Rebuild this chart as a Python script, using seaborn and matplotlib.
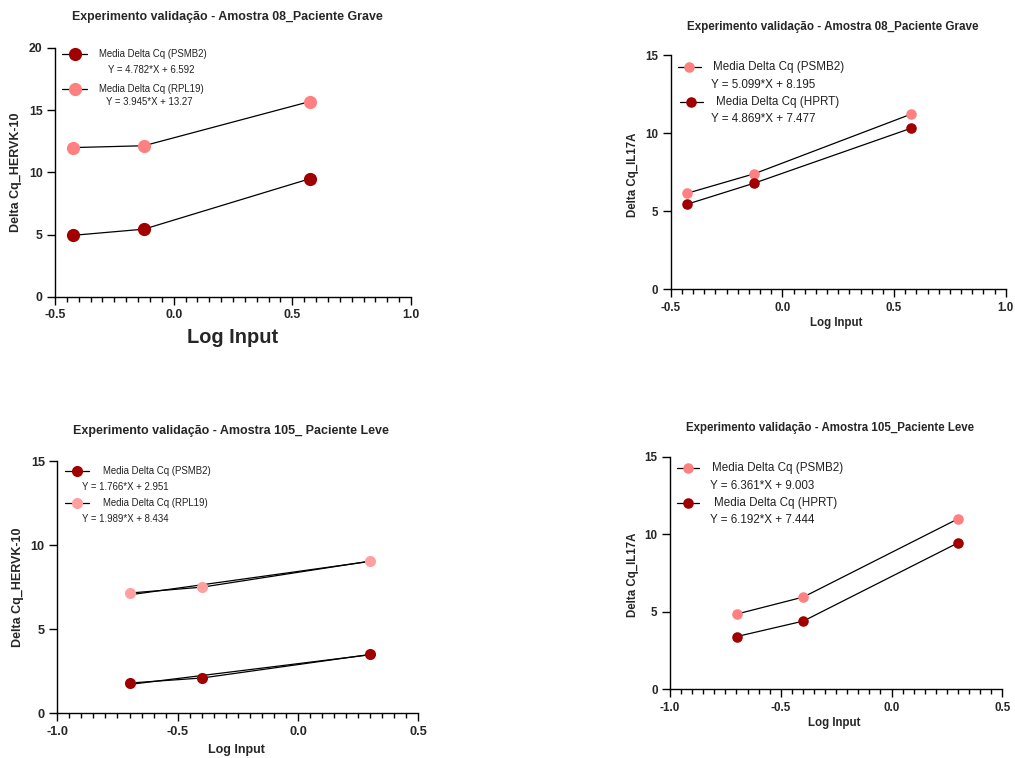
import numpy as np
import matplotlib
matplotlib.use("Agg")
import matplotlib.pyplot as plt
import matplotlib.ticker as mticker
from matplotlib.lines import Line2D
import seaborn as sns

# data (log input vs delta Cq)
x_08 = [-0.426, -0.125, 0.574]
hervk_08_psmb2 = [4.95, 5.45, 9.5]
hervk_08_rpl19 = [12.0, 12.15, 15.7]
il17_08_psmb2 = [6.15, 7.4, 11.2]
il17_08_hprt = [5.45, 6.8, 10.3]

x_105 = [-0.699, -0.398, 0.301]
hervk_105_psmb2 = [1.8, 2.1, 3.5]
hervk_105_rpl19 = [7.15, 7.5, 9.05]
il17_105_psmb2 = [4.85, 5.95, 11.0]
il17_105_hprt = [3.4, 4.4, 9.45]

# fitted lines shown in the HERVK-10 / Amostra 105 panel
fit_105_slopes = [1.766, 1.989]
fit_105_intercepts = [2.951, 8.434]

titles = ["Experimento validação - Amostra 08_Paciente Grave",
          "Experimento validação - Amostra 08_Paciente Grave",
          "Experimento validação - Amostra 105_ Paciente Leve",
          "Experimento validação - Amostra 105_Paciente Leve"]
ylabels = ["Delta Cq_HERVK-10", "Delta Cq_IL17A", "Delta Cq_HERVK-10", "Delta Cq_IL17A"]

DARK = "#A00000"
LIGHT = "#FF8080"
PALE = "#FFA0A0"

W, H = 1015, 758

sns.set_theme(style="ticks")
plt.rcParams["font.family"] = ["Liberation Sans", "DejaVu Sans"]

fig = plt.figure(figsize=(W / 100, H / 100), dpi=100)


def fx(px):
    return px / W


def fy(py):
    return 1 - py / H


def make_axes(left, right, top, bottom):
    return fig.add_axes([fx(left), fy(bottom), fx(right - left), (bottom - top) / H])


def style_axes(ax, xlim, ylim, ystep, fs):
    ax.set_xlim(*xlim)
    ax.set_ylim(*ylim)
    ax.xaxis.set_major_locator(mticker.MultipleLocator(0.5))
    ax.xaxis.set_minor_locator(mticker.MultipleLocator(0.05))
    ax.xaxis.set_major_formatter(mticker.FormatStrFormatter("%.1f"))
    ax.yaxis.set_major_locator(mticker.MultipleLocator(ystep))
    ax.tick_params(axis="both", which="major", direction="out", length=6, width=1.0,
                   labelsize=fs, color="black", pad=3)
    ax.tick_params(axis="x", which="minor", direction="out", length=3.5, width=1.0, color="black")
    for lab in ax.get_xticklabels() + ax.get_yticklabels():
        lab.set_fontweight("bold")
    sns.despine(ax=ax)
    for s in ["left", "bottom"]:
        ax.spines[s].set_linewidth(1.0)
        ax.spines[s].set_color("black")
    ax.set_xlabel("")
    ax.set_ylabel("")
    ax.grid(False)


def draw_series(ax, x, y, color, ms):
    sns.lineplot(x=x, y=y, ax=ax, color="black", linewidth=0.9, marker="o",
                 markersize=ms, markerfacecolor=color, markeredgewidth=0,
                 clip_on=False, zorder=3)


def draw_key(x0, x1, y, color, ms, label, lx, eq, ex, ey, fs):
    fig.add_artist(Line2D([fx(x0), fx(x1)], [fy(y), fy(y)], transform=fig.transFigure,
                          color="black", lw=0.9))
    fig.add_artist(Line2D([fx((x0 + x1) / 2)], [fy(y)], transform=fig.transFigure,
                          marker="o", markersize=ms, color=color, markeredgewidth=0, lw=0))
    fig.text(fx(lx), fy(y), label, fontsize=fs, va="center", ha="left", color="#222222")
    fig.text(fx(ex), fy(ey), eq, fontsize=fs, va="center", ha="left", color="#222222")


# ---- panel 1: HERVK-10, Amostra 08
ax1 = make_axes(55, 411, 48, 297)
draw_series(ax1, x_08, hervk_08_psmb2, DARK, 9.5)
draw_series(ax1, x_08, hervk_08_rpl19, LIGHT, 9.5)
style_axes(ax1, (-0.5, 1.0), (0, 20), 5, 8.8)
fig.text(fx(227), fy(17), titles[0], fontsize=8.9, fontweight="bold", ha="center", va="center")
fig.text(fx(16), fy(172.5), ylabels[0], fontsize=9, fontweight="bold", rotation=90,
         ha="center", va="center")
fig.text(fx(233), fy(338), "Log Input", fontsize=14.4, fontweight="bold", ha="center", va="center")
draw_key(62, 87, 54, DARK, 9.5, "Media Delta Cq (PSMB2)", 99, "Y = 4.782*X + 6.592", 107.7, 70.3, 6.9)
draw_key(62, 87, 88.7, LIGHT, 9.5, "Media Delta Cq (RPL19)", 99.3, "Y = 3.945*X + 13.27", 106, 101.7, 6.9)

# ---- panel 2: IL17A, Amostra 08
ax2 = make_axes(670.7, 1005.7, 55, 289.3)
draw_series(ax2, x_08, il17_08_psmb2, LIGHT, 7.6)
draw_series(ax2, x_08, il17_08_hprt, DARK, 7.6)
style_axes(ax2, (-0.5, 1.0), (0, 15), 5, 8.3)
fig.text(fx(832.5), fy(27), titles[1], fontsize=8.35, fontweight="bold", ha="center", va="center")
fig.text(fx(633), fy(174.5), ylabels[1], fontsize=8.3, fontweight="bold", rotation=90,
         ha="center", va="center")
fig.text(fx(836.7), fy(323), "Log Input", fontsize=8.3, fontweight="bold", ha="center", va="center")
draw_key(677.7, 701, 66.7, LIGHT, 7.6, "Media Delta Cq (PSMB2)", 713.3, "Y = 5.099*X + 8.195", 711, 85, 8.4)
draw_key(680, 702.7, 101.7, DARK, 7.6, "Media Delta Cq (HPRT)", 715.7, "Y = 4.869*X + 7.477", 711, 119, 8.4)

# ---- panel 3: HERVK-10, Amostra 105
ax3 = make_axes(57.3, 418.3, 461, 713.3)
xfit = np.array([min(x_105), max(x_105)])
for slope, icpt in zip(fit_105_slopes, fit_105_intercepts):
    sns.lineplot(x=xfit, y=slope * xfit + icpt, ax=ax3, color="black", linewidth=0.9, zorder=2)
draw_series(ax3, x_105, hervk_105_psmb2, DARK, 8)
draw_series(ax3, x_105, hervk_105_rpl19, PALE, 8)
style_axes(ax3, (-1.0, 0.5), (0, 15), 5, 9.2)
fig.text(fx(231), fy(430.7), titles[2], fontsize=9.0, fontweight="bold", ha="center", va="center")
fig.text(fx(18), fy(587), ylabels[2], fontsize=9, fontweight="bold", rotation=90,
         ha="center", va="center")
fig.text(fx(236), fy(750), "Log Input", fontsize=9, fontweight="bold", ha="center", va="center")
draw_key(65, 89.3, 471.3, DARK, 8, "Media Delta Cq (PSMB2)", 102.7, "Y = 1.766*X + 2.951", 82.3, 486.7, 6.9)
draw_key(65, 89.3, 503.3, PALE, 8, "Media Delta Cq (RPL19)", 103.3, "Y = 1.989*X + 8.434", 82.3, 518.7, 6.9)

# ---- panel 4: IL17A, Amostra 105
ax4 = make_axes(670, 1002.3, 456.7, 689.3)
draw_series(ax4, x_105, il17_105_psmb2, LIGHT, 7.6)
draw_series(ax4, x_105, il17_105_hprt, DARK, 7.6)
style_axes(ax4, (-1.0, 0.5), (0, 15), 5, 8.4)
fig.text(fx(830.5), fy(427.7), titles[3], fontsize=8.3, fontweight="bold", ha="center", va="center")
fig.text(fx(633), fy(575), ylabels[3], fontsize=8.3, fontweight="bold", rotation=90,
         ha="center", va="center")
fig.text(fx(834.3), fy(723), "Log Input", fontsize=8.3, fontweight="bold", ha="center", va="center")
draw_key(676.7, 699.3, 467.7, LIGHT, 7.6, "Media Delta Cq (PSMB2)", 711.7, "Y = 6.361*X + 9.003", 710, 486, 8.4)
draw_key(676.7, 699.3, 502.7, DARK, 7.6, "Media Delta Cq (HPRT)", 714.3, "Y = 6.192*X + 7.444", 710, 520, 8.4)

fig.savefig("out.png", dpi=100)
